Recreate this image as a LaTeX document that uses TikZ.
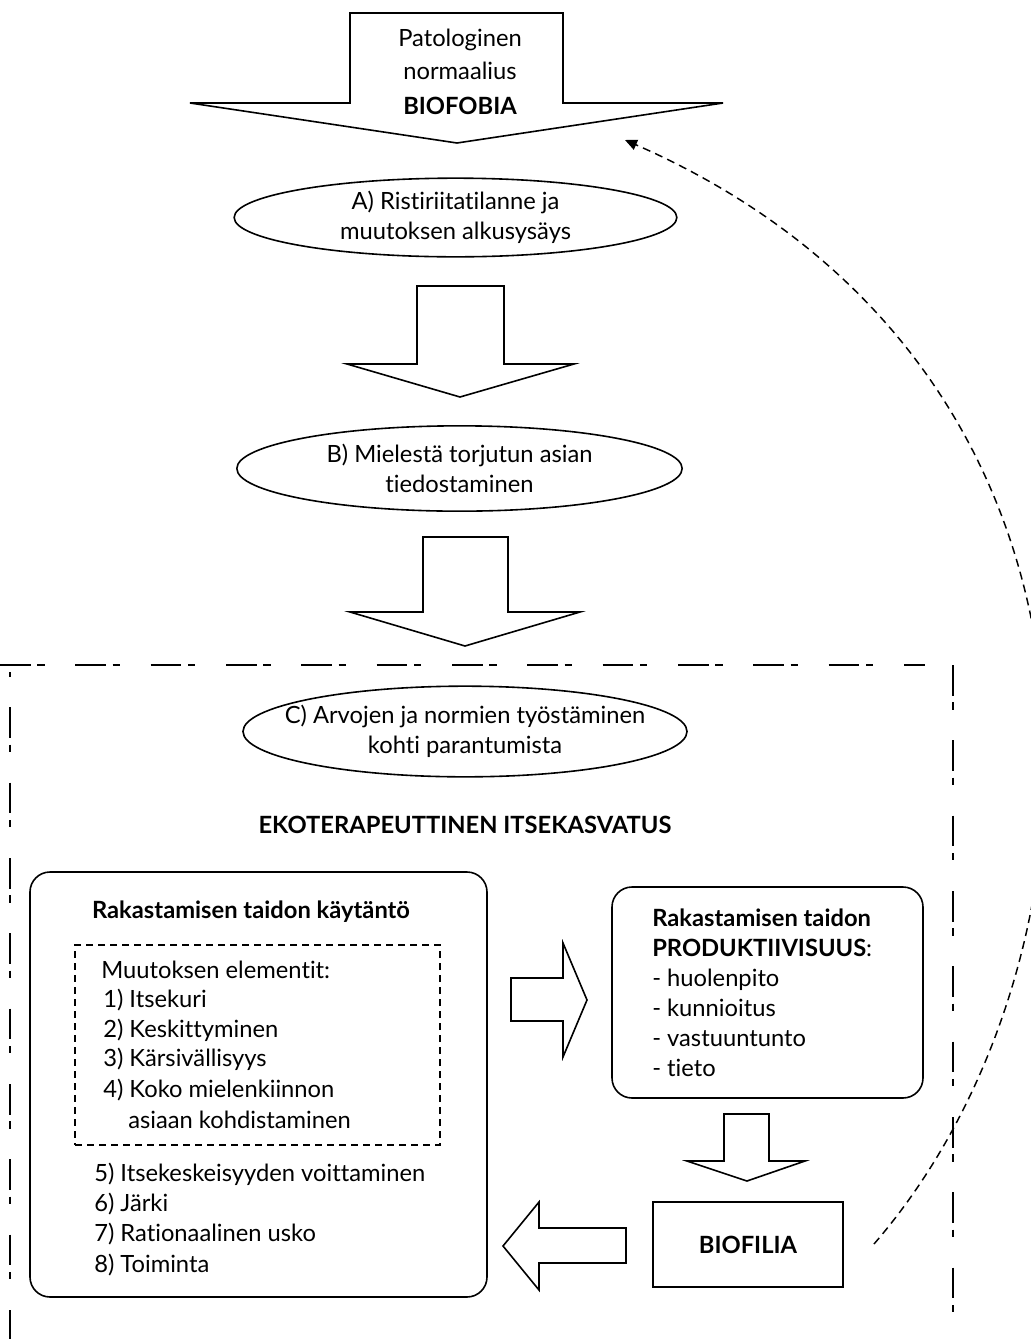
\documentclass[tikz,border=0pt]{standalone}
\usepackage{fontspec}
\setmainfont{Lato}[Ligatures={NoCommon}]
\usetikzlibrary{shapes.geometric,fit,arrows.meta}
\begin{document}
\begin{tikzpicture}[x=0.75pt,y=-0.75pt,
  every node/.style={font=\fontsize{17.8}{22.5}\selectfont, inner sep=0pt},
  bf/.style={font=\fontsize{17.8}{22.5}\selectfont\bfseries},
  ln/.style={line width=1.2pt, line join=miter},
  ell/.style={ln, draw, ellipse, inner sep=0pt},
  rbox/.style={ln, draw, rounded corners=15pt, inner sep=0pt},
  sbox/.style={ln, draw, inner sep=0pt},
  ibox/.style={line width=1.1pt, draw, dash pattern=on 5.25pt off 3.75pt, inner sep=0pt},
  fat/.style={ln, draw, fill=white},
  txt/.style={align=center},
  item/.style={anchor=base west},
  outer/.style={line width=1.1pt, dash pattern=on 23pt off 5pt on 5.5pt off 23pt},
  back/.style={line width=1.1pt, dash pattern=on 6pt off 4pt, -{Triangle[length=9pt,width=8pt]}}
]
\useasboundingbox (0,0) rectangle (1031,1339);
\clip (0,0) rectangle (1031,1339);

% top fat arrow
\draw[fat] (350,13) -- (563,13) -- (563,103) -- (723,103) -- (457,143) -- (190,103) -- (350,103) -- cycle;
\node[txt] (t1) at (460,40) {Patologinen};
\node[txt] (t2) at (460,71) {normaalius};
\node[txt, bf] (t3) at (460,106) {BIOFOBIA};

% ellipse A
\node[ell, minimum width=332pt, minimum height=59pt] (A) at (455.5,217.5) {};
\node[txt] (Atxt) at (A.center) {A) Ristiriitatilanne ja\\muutoksen alkusysäys};

% arrow 2
\draw[fat] (417,286) -- (504,286) -- (504,364) -- (574,364) -- (460,397) -- (347,364) -- (417,364) -- cycle;

% ellipse B
\node[ell, minimum width=334pt, minimum height=64pt] (B) at (459.5,468.5) {};
\node[txt] (Btxt) at (B.center) {B) Mielestä torjutun asian\\tiedostaminen};

% arrow 3
\draw[fat] (423,537) -- (508,537) -- (508,612) -- (580,612) -- (465,646) -- (350,612) -- (423,612) -- cycle;

% outer dash-dot frame
\coordinate (o1) at (0,665);
\coordinate (o2) at (925,665);
\coordinate (o3) at (953,665);
\coordinate (o4) at (953,1320);
\coordinate (o5) at (10,672);
\coordinate (o6) at (10,1339);
\draw[outer] (o1) -- (o2);
\draw[outer] (o3) -- (o4);
\draw[outer, dash phase=30pt] (o5) -- (o6);

% ellipse C
\node[ell, minimum width=333pt, minimum height=68pt] (C) at (465,731.5) {};
\node[txt] (Ctxt) at (C.center) {C) Arvojen ja normien työstäminen\\kohti parantumista};

\node[txt, bf] (eko) at (465,825) {EKOTERAPEUTTINEN ITSEKASVATUS};

% left box
\node[rbox, fit={(30,872) (487,1297)}] (L) {};
\node[bf] (Lt) at (251,912) {Rakastamisen taidon käytäntö};
\node[ibox, fit={(75,945) (440,1145)}] (I) {};
\node[item] (m0) at (101,978) {Muutoksen elementit:};
\node[item] (m1) at (103,1007) {1) Itsekuri};
\node[item] (m2) at (103,1037) {2) Keskittyminen};
\node[item] (m3) at (103,1066) {3) Kärsivällisyys};
\node[item] (m4) at (103,1097) {4) Koko mielenkiinnon};
\node[item] (m4b) at (128,1128) {asiaan kohdistaminen};
\node[item] (m5) at (94,1181) {5) Itsekeskeisyyden voittaminen};
\node[item] (m6) at (94,1211) {6) Järki};
\node[item] (m7) at (94,1241) {7) Rationaalinen usko};
\node[item] (m8) at (94,1272) {8) Toiminta};

% right arrow
\draw[fat] (511,978) -- (563,978) -- (563,943) -- (587,1000) -- (563,1057) -- (563,1021) -- (511,1021) -- cycle;

% right box
\node[rbox, fit={(612,887) (923,1098)}] (R) {};
\node[item, bf] (r1) at (652,926) {Rakastamisen taidon};
\node[item] (r2) at (652,956) {\textbf{PRODUKTIIVISUUS}:};
\node[item] (r3) at (652,986) {- huolenpito};
\node[item] (r4) at (652,1016) {- kunnioitus};
\node[item] (r5) at (652,1046) {- vastuuntunto};
\node[item] (r6) at (652,1076) {- tieto};

% down small arrow
\draw[fat] (724,1114) -- (769,1114) -- (769,1161) -- (805,1161) -- (747,1181) -- (687,1161) -- (724,1161) -- cycle;

% BIOFILIA box
\node[sbox, fit={(653,1202) (843,1287)}] (BF) {};
\node[bf] (BFt) at (BF.center) {BIOFILIA};

% left fat arrow
\draw[fat] (626,1228) -- (539,1228) -- (539,1202) -- (503,1246) -- (539,1290) -- (539,1263) -- (626,1263) -- cycle;

% dashed return curve
\coordinate (cs) at (874,1244);
\coordinate (ce) at (625,140);
\draw[back] (cs) .. controls (1120,960) and (1150,370) .. (ce);
\end{tikzpicture}
\end{document}
